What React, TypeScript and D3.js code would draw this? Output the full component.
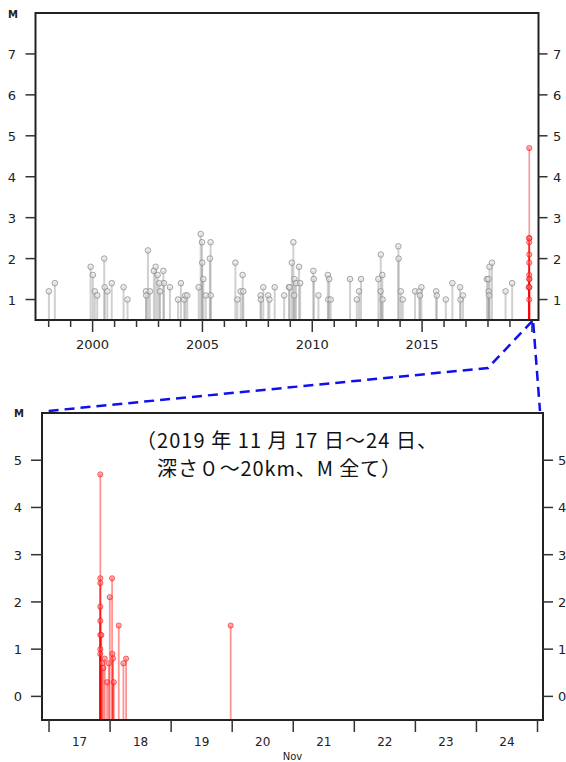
import React from "react";
import * as d3 from "d3";

// Top panel: gray events (decimal year, M)
const grayQuakes: [number, number][] = [
  [1998.01, 1.2], [1998.28, 1.4], [1999.91, 1.8], [2000.01, 1.6], [2000.1, 1.2], [2000.21, 1.1],
  [2000.53, 2.0], [2000.55, 1.3], [2000.67, 1.2], [2000.87, 1.4], [2001.41, 1.3], [2001.59, 1.0],
  [2002.43, 1.2], [2002.44, 1.1], [2002.52, 2.2], [2002.61, 1.2], [2002.79, 1.7], [2002.87, 1.8],
  [2002.96, 1.6], [2003.04, 1.4], [2003.07, 1.2], [2003.22, 1.7], [2003.25, 1.4], [2003.52, 1.3],
  [2003.89, 1.0], [2004.02, 1.4], [2004.17, 1.0], [2004.22, 1.1], [2004.31, 1.1], [2004.83, 1.3],
  [2004.92, 2.6], [2004.98, 2.4], [2004.99, 1.9], [2005.04, 1.5], [2005.15, 1.1], [2005.34, 2.0],
  [2005.37, 2.4], [2005.38, 1.1], [2006.5, 1.9], [2006.59, 1.0], [2006.74, 1.2], [2006.83, 1.6],
  [2006.86, 1.2], [2007.65, 1.1], [2007.66, 1.0], [2007.77, 1.3], [2007.99, 1.1], [2008.05, 1.0],
  [2008.29, 1.3], [2008.72, 1.1], [2008.94, 1.3], [2008.97, 1.3], [2009.07, 1.9], [2009.14, 2.4],
  [2009.18, 1.1], [2009.19, 1.5], [2009.26, 1.4], [2009.4, 1.8], [2009.45, 1.4], [2010.05, 1.7],
  [2010.07, 1.5], [2010.28, 1.1], [2010.71, 1.6], [2010.73, 1.0], [2010.77, 1.5], [2010.84, 1.0],
  [2011.72, 1.5], [2012.03, 1.0], [2012.13, 1.2], [2012.22, 1.5], [2013.01, 1.5], [2013.11, 1.2],
  [2013.12, 2.1], [2013.19, 1.6], [2013.2, 1.0], [2013.92, 2.3], [2013.93, 2.0], [2014.03, 1.2],
  [2014.12, 1.0], [2014.68, 1.2], [2014.88, 1.2], [2014.9, 1.1], [2014.97, 1.3], [2015.64, 1.2],
  [2015.67, 1.1], [2016.08, 1.0], [2016.38, 1.4], [2016.73, 1.3], [2016.75, 1.0], [2016.86, 1.1],
  [2017.95, 1.5], [2018.02, 1.5], [2018.03, 1.2], [2018.05, 1.1], [2018.07, 1.8], [2018.18, 1.9],
  [2018.8, 1.2], [2019.1, 1.4], [2019.86, 1.3],
];

// Bottom panel: November 2019 events (day of month with fraction, M)
const novQuakes: [number, number][] = [
  [17.84, 4.7], [17.84, 2.5], [17.84, 2.4], [17.84, 1.9], [17.84, 1.6], [17.84, 1.3], [17.84, 1.0],
  [17.84, 0.9], [17.858, 1.3], [17.869, 0.7], [17.89, 0.6], [17.913, 0.8], [17.951, 0.3],
  [17.979, 0.7], [17.995, 2.1], [18.033, 2.5], [18.038, 0.9], [18.049, 0.8], [18.061, 0.3],
  [18.142, 1.5], [18.218, 0.7], [18.262, 0.8], [19.975, 1.5],
];

const topYTicks = [1, 2, 3, 4, 5, 6, 7];
const topYearTicks = d3.range(1998, 2021);
const topYearLabels = [2000, 2005, 2010, 2015];
const botYTicks = [0, 1, 2, 3, 4, 5];
const botDayTicks = d3.range(17, 26);
const botDayLabels = [17, 18, 19, 20, 21, 22, 23, 24];
const titleLines = ["（2019 年 11 月 17 日～24 日、", "深さ０～20km、M 全て）"];

const FONT = "'DejaVu Sans', sans-serif";
const JFONT = "'Noto Sans CJK JP', sans-serif";

export default function App() {
  const xTop = d3.scaleLinear().domain([1997.4, 2020.3]).range([35.5, 538.5]);
  const yTop = d3.scaleLinear().domain([0.5, 8]).range([320, 13]);
  const xBot = d3.scaleLinear().domain([16.885, 25.09]).range([42, 543]);
  const yBot = d3.scaleLinear().domain([-0.5, 6]).range([720, 413]);

  const toYear = (day: number) => 2019 + (304 + day - 1) / 365;
  const redTop = novQuakes.filter((d) => d[1] >= 1).map((d) => [toYear(d[0]), d[1]] as [number, number]);

  const grayStem = "rgba(150,150,150,0.45)";
  const grayFill = "rgba(225,225,225,0.6)";
  const grayStroke = "rgba(130,130,130,0.7)";
  const redStem = "rgba(255,0,0,0.42)";
  const redFill = "rgba(255,100,100,0.5)";
  const redStroke = "rgba(255,0,0,0.55)";

  const [tx0, tx1] = xTop.range();
  const [ty0, ty1] = yTop.range();
  const [bx0, bx1] = xBot.range();
  const [by0, by1] = yBot.range();

  const redX = xTop(redTop[0][0]);

  return (
    <svg width={566} height={762} style={{ position: "absolute", left: 0, top: 0, background: "#fff" }}>
      {/* Top panel */}
      <g>
        {grayQuakes.map((d, i) => (
          <line key={"gs" + i} x1={xTop(d[0])} x2={xTop(d[0])} y1={ty0} y2={yTop(d[1])} stroke={grayStem} strokeWidth={2} />
        ))}
        {grayQuakes.map((d, i) => (
          <circle key={"gc" + i} cx={xTop(d[0])} cy={yTop(d[1])} r={2.8} fill={grayFill} stroke={grayStroke} strokeWidth={1} />
        ))}
        {redTop.map((d, i) => (
          <line key={"rs" + i} x1={xTop(d[0])} x2={xTop(d[0])} y1={ty0} y2={yTop(d[1])} stroke={redStem} strokeWidth={1.6} />
        ))}
        {redTop.map((d, i) => (
          <circle key={"rc" + i} cx={xTop(d[0])} cy={yTop(d[1])} r={2.6} fill={redFill} stroke={redStroke} strokeWidth={1} />
        ))}
        <rect x={tx0} y={ty1} width={tx1 - tx0} height={ty0 - ty1} fill="none" stroke="#222" strokeWidth={2} />
        {topYTicks.map((t) => (
          <g key={"ty" + t}>
            <line x1={tx0 - 10} x2={tx0} y1={yTop(t)} y2={yTop(t)} stroke="#333" strokeWidth={1.5} />
            <line x1={tx1} x2={tx1 + 9} y1={yTop(t)} y2={yTop(t)} stroke="#333" strokeWidth={1.5} />
            <text x={12} y={yTop(t) + 5} textAnchor="middle" fontFamily={FONT} fontSize={13} fill="#222">{t}</text>
            <text x={553} y={yTop(t) + 5} textAnchor="start" fontFamily={FONT} fontSize={13} fill="#222">{t}</text>
          </g>
        ))}
        <text x={13} y={18} textAnchor="middle" fontFamily={FONT} fontSize={10} fontWeight="bold" fill="#222">M</text>
        {topYearTicks.map((t) => (
          <line key={"tx" + t} x1={xTop(t)} x2={xTop(t)} y1={ty0} y2={ty0 + (t % 5 === 0 ? 12 : 7)} stroke="#333" strokeWidth={1.5} />
        ))}
        {topYearLabels.map((t) => (
          <text key={"tl" + t} x={xTop(t)} y={349} textAnchor="middle" fontFamily={FONT} fontSize={13} fill="#222">{t}</text>
        ))}
      </g>

      {/* Blue dashed connectors */}
      <polyline points={`${redX + 3},${ty0 + 1} ${488},${368} ${bx0 + 6},${by1 - 2}`} fill="none" stroke="#1010ee" strokeWidth={2.5} strokeDasharray="10,6" />
      <line x1={redX + 4} y1={ty0 + 3} x2={bx1 - 3} y2={by1 - 2} stroke="#1010ee" strokeWidth={2.5} strokeDasharray="10,6" />

      {/* Bottom panel */}
      <g>
        {novQuakes.map((d, i) => (
          <line key={"bs" + i} x1={xBot(d[0])} x2={xBot(d[0])} y1={by0} y2={yBot(d[1])} stroke={redStem} strokeWidth={1.8} />
        ))}
        {novQuakes.map((d, i) => (
          <circle key={"bc" + i} cx={xBot(d[0])} cy={yBot(d[1])} r={2.6} fill={redFill} stroke={redStroke} strokeWidth={1} />
        ))}
        <rect x={bx0} y={by1} width={bx1 - bx0} height={by0 - by1} fill="none" stroke="#222" strokeWidth={2} />
        {botYTicks.map((t) => (
          <g key={"by" + t}>
            <line x1={bx0 - 11} x2={bx0} y1={yBot(t)} y2={yBot(t)} stroke="#333" strokeWidth={1.5} />
            <line x1={bx1} x2={bx1 + 10} y1={yBot(t)} y2={yBot(t)} stroke="#333" strokeWidth={1.5} />
            <text x={18} y={yBot(t) + 5} textAnchor="middle" fontFamily={FONT} fontSize={13} fill="#222">{t}</text>
            <text x={558} y={yBot(t) + 5} textAnchor="start" fontFamily={FONT} fontSize={13} fill="#222">{t}</text>
          </g>
        ))}
        <text x={19} y={417} textAnchor="middle" fontFamily={FONT} fontSize={10} fontWeight="bold" fill="#222">M</text>
        {botDayTicks.map((t) => (
          <line key={"bx" + t} x1={xBot(t)} x2={xBot(t)} y1={by0} y2={by0 + 12} stroke="#333" strokeWidth={1.5} />
        ))}
        {botDayLabels.map((t) => (
          <text key={"bl" + t} x={xBot(t + 0.5)} y={746} textAnchor="middle" fontFamily={FONT} fontSize={12} fill="#222">{t}</text>
        ))}
        <text x={(bx0 + bx1) / 2} y={760} textAnchor="middle" fontFamily={FONT} fontSize={10} fill="#222">Nov</text>
        <text x={136} y={448} textLength={301} lengthAdjust="spacing" fontFamily={JFONT} fontSize={20} fill="#111">{titleLines[0]}</text>
        <text x={157} y={476} textLength={244} lengthAdjust="spacing" fontFamily={JFONT} fontSize={20} fill="#111">{titleLines[1]}</text>
      </g>
    </svg>
  );
}
